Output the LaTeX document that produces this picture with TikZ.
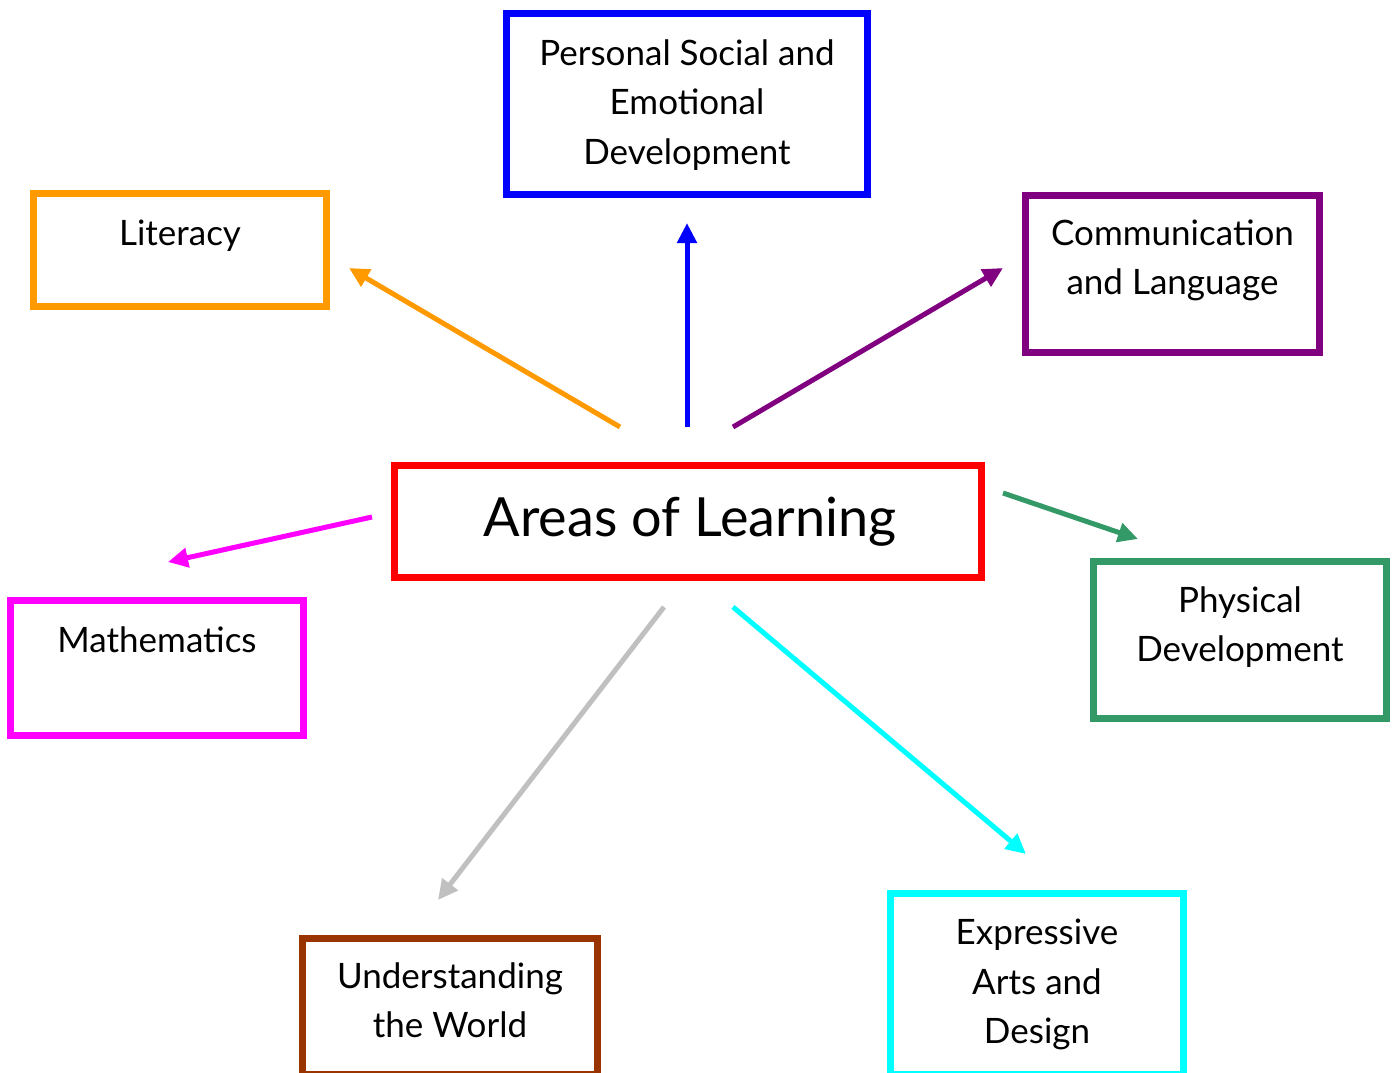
\documentclass[tikz,border=0pt]{standalone}
\usepackage{fontspec}
\setmainfont{Lato}
\usetikzlibrary{arrows.meta}
\definecolor{cOrange}{HTML}{FF9900}
\definecolor{cBlue}{HTML}{0000FF}
\definecolor{cPurple}{HTML}{800080}
\definecolor{cRed}{HTML}{FF0000}
\definecolor{cMagenta}{HTML}{FF00FF}
\definecolor{cGreen}{HTML}{339966}
\definecolor{cGray}{HTML}{C0C0C0}
\definecolor{cBrown}{HTML}{993300}
\definecolor{cCyan}{HTML}{00FFFF}
\begin{document}
\begin{tikzpicture}[x=1pt,y=-1pt,
  areabox/.style={draw, line width=7pt, rectangle, inner sep=0pt, outer sep=0pt, anchor=north west},
  lbl/.style={inner sep=0pt, align=center, anchor=base, font=\fontsize{35}{49.5}\selectfont},
  bigl/.style={inner sep=0pt, anchor=base, font=\fontsize{54}{60}\selectfont},
  arr/.style={line width=5pt, -{Triangle[length=20pt,width=19pt]}}
]
\useasboundingbox (0,0) rectangle (1395,1072);
\fill[white] (0,0) rectangle (1395,1072);

% boxes
\node[areabox, draw=cBlue, minimum width=361pt, minimum height=181pt] (psed) at (506.5,13.5) {};
\node[areabox, draw=cOrange, minimum width=293pt, minimum height=113pt] (lit) at (33.5,193.5) {};
\node[areabox, draw=cPurple, minimum width=294pt, minimum height=157pt] (comm) at (1025.5,195.5) {};
\node[areabox, draw=cRed, minimum width=587pt, minimum height=112pt] (aol) at (394.5,465.5) {};
\node[areabox, draw=cMagenta, minimum width=293pt, minimum height=135pt] (math) at (10.5,600.5) {};
\node[areabox, draw=cGreen, minimum width=293pt, minimum height=157pt] (phys) at (1093.5,561.5) {};
\node[areabox, draw=cBrown, minimum width=295pt, minimum height=136pt] (utw) at (302.5,938.5) {};
\node[areabox, draw=cCyan, minimum width=293pt, minimum height=181pt] (ead) at (890.5,893.5) {};

% labels (base anchor = baseline of last line)
\node[lbl] (psedt) at ([yshift=-150.5pt]psed.north) {Personal Social and\\Emotional\\Development};
\node[lbl] (litt) at ([yshift=-51.5pt]lit.north) {Literacy};
\node[lbl] (commt) at ([yshift=-99pt]comm.north) {Communication\\and Language};
\node[bigl] (aolt) at (690,536) {Areas of Learning};
\node[lbl] (matht) at ([yshift=-52pt]math.north) {Mathematics};
\node[lbl] (physt) at ([yshift=-100pt]phys.north) {Physical\\Development};
\node[lbl] (utwt) at ([yshift=-99pt]utw.north) {Understanding\\the World};
\node[lbl] (eadt) at ([yshift=-150pt]ead.north) {Expressive\\Arts and\\Design};

% arrow end points
\coordinate (oS) at (620,427);  \coordinate (oE) at (349,268);
\coordinate (bS) at (687,427);  \coordinate (bE) at (687,223);
\coordinate (pS) at (733,427);  \coordinate (pE) at (1003,268);
\coordinate (mS) at (372,517);  \coordinate (mE) at (168,562);
\coordinate (gS) at (1003,493); \coordinate (gE) at (1138,539);
\coordinate (yS) at (664,607);  \coordinate (yE) at (438,900);
\coordinate (cS) at (733,607);  \coordinate (cE) at (1026,854);

\draw[arr, draw=cOrange, fill=cOrange] (oS) -- (oE);
\draw[arr, draw=cBlue, fill=cBlue] (bS) -- (bE);
\draw[arr, draw=cPurple, fill=cPurple] (pS) -- (pE);
\draw[arr, draw=cMagenta, fill=cMagenta] (mS) -- (mE);
\draw[arr, draw=cGreen, fill=cGreen] (gS) -- (gE);
\draw[arr, draw=cGray, fill=cGray] (yS) -- (yE);
\draw[arr, draw=cCyan, fill=cCyan] (cS) -- (cE);
\end{tikzpicture}
\end{document}
